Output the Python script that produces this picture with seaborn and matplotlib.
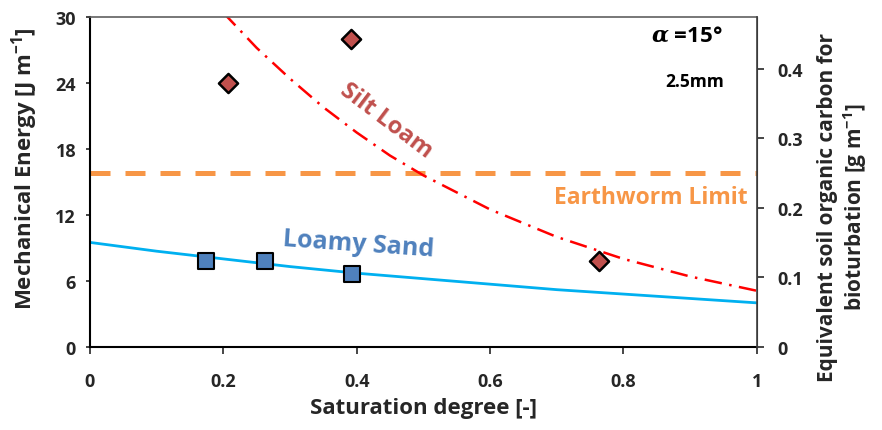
import matplotlib

matplotlib.use("Agg")
import matplotlib.pyplot as plt
import pandas as pd
import seaborn as sns

# measured points
sand_x = [0.174, 0.262, 0.393]
sand_y = [7.8, 7.8, 6.6]
silt_x = [0.207, 0.391, 0.764]
silt_y = [24.0, 28.0, 7.8]

# fitted curves
sand_fit_x = [0.0, 0.1, 0.2, 0.3, 0.4, 0.5, 0.6, 0.7, 0.8, 0.9, 1.0]
sand_fit_y = [9.5, 8.7, 8.0, 7.3, 6.7, 6.2, 5.7, 5.2, 4.8, 4.4, 4.0]
silt_fit_x = [0.2, 0.25, 0.3, 0.35, 0.4, 0.45, 0.5, 0.6, 0.7, 0.8, 0.9, 1.0]
silt_fit_y = [30.4, 27.2, 24.4, 21.8, 19.5, 17.4, 15.6, 12.5, 10.0, 8.0, 6.4, 5.1]

earthworm_limit = 15.8
energy_per_carbon = 63.2  # J per g, links both y axes

x_ticks = [0, 0.2, 0.4, 0.6, 0.8, 1]
x_tick_labels = ["0", "0.2", "0.4", "0.6", "0.8", "1"]
y_ticks = [0, 6, 12, 18, 24, 30]
y2_ticks = [0, 0.1, 0.2, 0.3, 0.4]
y2_tick_labels = ["0", "0.1", "0.2", "0.3", "0.4"]

sns.set_style("ticks")
plt.rcParams["font.family"] = ["Open Sans", "DejaVu Sans"]
plt.rcParams["font.weight"] = "bold"
plt.rcParams["mathtext.fontset"] = "custom"
plt.rcParams["mathtext.rm"] = "Open Sans:bold"
plt.rcParams["mathtext.it"] = "DejaVu Serif:italic"
plt.rcParams["mathtext.bf"] = "Open Sans:bold"

fig = plt.figure(figsize=(8.82, 4.31), dpi=100)
ax = fig.add_axes([0.102, 0.193, 0.756, 0.765])

sand_fit = pd.DataFrame({"x": sand_fit_x, "y": sand_fit_y})
silt_fit = pd.DataFrame({"x": silt_fit_x, "y": silt_fit_y})

sns.lineplot(data=sand_fit, x="x", y="y", ax=ax, color="#00B0F0", lw=2, zorder=2)
sns.lineplot(data=silt_fit, x="x", y="y", ax=ax, color="#FF0000", lw=1.8,
             dashes=False, zorder=2)
ax.lines[-1].set_dashes([7, 3, 1, 3])
ax.axhline(earthworm_limit, color="#F79646", lw=3.6, dashes=(4, 3), zorder=1)

sns.scatterplot(x=sand_x, y=sand_y, ax=ax, marker="s", s=140, color="#4F81BD",
                edgecolor="black", linewidth=1.5, zorder=3)
sns.scatterplot(x=silt_x, y=silt_y, ax=ax, marker="D", s=95, color="#C0504D",
                edgecolor="black", linewidth=1.8, zorder=3, clip_on=False)

ax.set_xlim(0, 1)
ax.set_ylim(0, 30)
ax.set_xticks(x_ticks)
ax.set_xticklabels(x_tick_labels)
ax.set_yticks(y_ticks)
ax.tick_params(labelsize=13, width=1.2, direction="out")
ax.tick_params(axis="x", length=5, pad=13)
ax.tick_params(axis="y", length=3, pad=7)
ax.set_xlabel("Saturation degree [-]", fontsize=16, fontweight="bold", labelpad=5)
ax.set_ylabel("Mechanical Energy [J m$^{-1}$]", fontsize=16, fontweight="bold")
ax.yaxis.set_label_coords(-0.075, 0.542)
for side in ["left", "bottom"]:
    ax.spines[side].set_color("black")
    ax.spines[side].set_linewidth(1.5)
ax.spines["top"].set_color("#606060")
ax.spines["top"].set_linewidth(1.2)

ax2 = ax.twinx()
ax2.set_ylim(0, 30 / energy_per_carbon)
ax2.set_yticks(y2_ticks)
ax2.set_yticklabels(y2_tick_labels)
ax2.tick_params(labelsize=13, length=5, width=1.2, direction="out", pad=10)
ax2.spines["right"].set_color("#404040")
ax2.spines["right"].set_linewidth(1.2)
for side in ["left", "bottom", "top"]:
    ax2.spines[side].set_visible(False)
ax2.set_ylabel("Equivalent soil organic carbon for\nbioturbation [g m$^{-1}$]",
               fontsize=15, fontweight="bold")
ax2.yaxis.set_label_coords(1.09, 0.427)

ax.text(0.445, 20.6, "Silt Loam", color="#C0504D", fontsize=17, rotation=-37,
        ha="center", va="center")
ax.text(0.403, 9.4, "Loamy Sand", color="#4F81BD", fontsize=18, rotation=-4,
        ha="center", va="center")
ax.text(0.841, 13.6, "Earthworm Limit", color="#F79646", fontsize=16.5,
        ha="center", va="center")
ax.text(0.895, 28.4, r"$\alpha$ =15°", color="black", fontsize=16,
        ha="center", va="center")
ax.text(0.907, 24.2, "2.5mm", color="black", fontsize=12.5,
        ha="center", va="center")

fig.savefig("out.png", dpi=100)
